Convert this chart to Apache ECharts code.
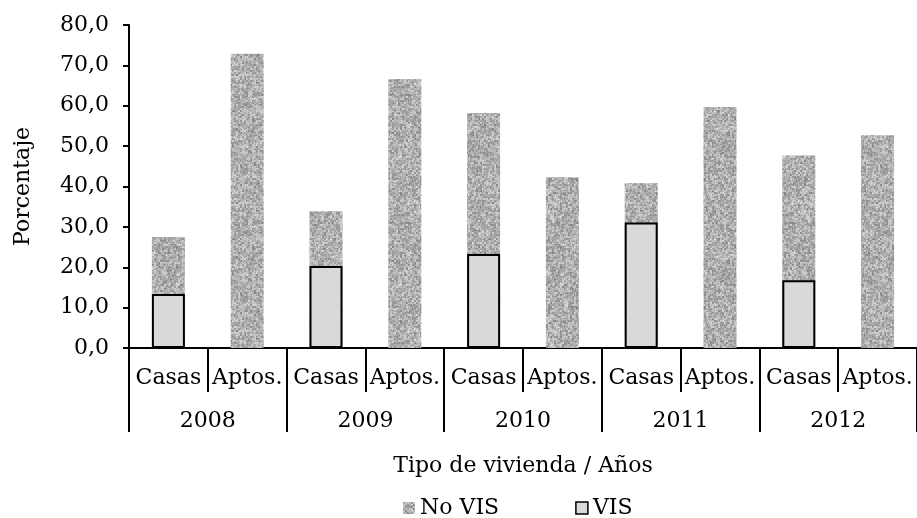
<!DOCTYPE html>
<html>
<head>
<meta charset="utf-8">
<script src="https://cdn.jsdelivr.net/npm/echarts@6/dist/echarts.min.js"></script>
<style>
  html, body { margin: 0; padding: 0; background: #fff; }
  #chart { width: 917px; height: 518px; }
</style>
</head>
<body>
<div id="chart"></div>
<script>
// data
const tipos = ['Casas', 'Aptos.', 'Casas', 'Aptos.', 'Casas', 'Aptos.', 'Casas', 'Aptos.', 'Casas', 'Aptos.']
const years = ['2008', '2009', '2010', '2011', '2012']
const noVis = [27.5, 72.9, 33.9, 66.6, 58.2, 42.3, 40.8, 59.7, 47.7, 52.7]
const vis = [13.4, null, 20.3, null, 23.3, null, 31.1, null, 16.8, null]

const font = 'DejaVu Serif'

// grainy grey texture for the No VIS bars (fixed integer hash, not random)
const hash = (x, y) => {
  let h = (Math.imul(x, 374761393) + Math.imul(y, 668265263)) | 0
  h = Math.imul(h ^ (h >>> 13), 1274126177)
  h = h ^ (h >>> 16)
  return (h >>> 0) / 4294967296
}
const makeGrain = () => {
  const size = 128
  const c = document.createElement('canvas')
  c.width = size
  c.height = size
  const ctx = c.getContext('2d')
  const img = ctx.createImageData(size, size)
  for (let y = 0; y < size; y++) {
    for (let x = 0; x < size; x++) {
      // coarse 2px grain mixed with a fine one
      const coarse = hash(Math.floor(x / 2) + 1000, Math.floor(y / 2) + 2000)
      const fine = hash(x + 5000, y + 7000)
      const v = coarse * 0.6 + fine * 0.4
      const g = Math.round(125 + v * 100)
      const i = (y * size + x) * 4
      img.data[i] = g
      img.data[i + 1] = g
      img.data[i + 2] = g
      img.data[i + 3] = 255
    }
  }
  ctx.putImageData(img, 0, 0)
  return c
}
const grain = {image: makeGrain(), repeat: 'repeat'}

const chart = echarts.init(document.getElementById('chart'))

const option = {
  animation: false,
  backgroundColor: '#fff',
  grid: {left: 129, right: 0, top: 25, bottom: 170, containLabel: false, outerBoundsMode: 'none'},
  legend: {
    left: 398,
    top: 492,
    itemWidth: 12,
    itemHeight: 12,
    itemGap: 76,
    textStyle: {fontFamily: font, fontSize: 22, color: '#000'},
    data: [
      {name: 'No VIS', icon: 'rect'},
      {name: 'VIS', icon: 'rect', itemStyle: {borderWidth: 1.5, borderColor: '#000'}}
    ]
  },
  xAxis: [
    {
      type: 'category',
      data: tipos,
      axisLine: {lineStyle: {color: '#000', width: 2}},
      axisTick: {show: true, length: 44, interval: 0, lineStyle: {color: '#000', width: 2}},
      axisLabel: {interval: 0, margin: 19, fontFamily: font, fontSize: 22, color: '#000'}
    },
    {
      type: 'category',
      data: years,
      position: 'bottom',
      name: 'Tipo de vivienda / Años',
      nameLocation: 'middle',
      nameGap: 107,
      nameTextStyle: {fontFamily: font, fontSize: 22, color: '#000'},
      axisLine: {show: false},
      axisTick: {show: true, length: 84, interval: 0, lineStyle: {color: '#000', width: 2}},
      axisLabel: {interval: 0, margin: 62, fontFamily: font, fontSize: 22, color: '#000'}
    }
  ],
  yAxis: {
    type: 'value',
    min: 0,
    max: 80,
    interval: 10,
    name: 'Porcentaje',
    nameLocation: 'middle',
    nameGap: 95,
    nameTextStyle: {fontFamily: font, fontSize: 22, color: '#000'},
    splitLine: {show: false},
    axisLine: {show: true, lineStyle: {color: '#000', width: 2}},
    axisTick: {show: true, length: 6, lineStyle: {color: '#000', width: 2}},
    axisLabel: {
      margin: 20,
      fontFamily: font,
      fontSize: 22,
      color: '#000',
      formatter: v => v.toFixed(1).replace('.', ',')
    }
  },
  series: [
    {
      name: 'No VIS',
      type: 'bar',
      xAxisIndex: 0,
      barWidth: 33,
      barGap: '-100%',
      itemStyle: {color: grain},
      data: noVis
    },
    {
      name: 'VIS',
      type: 'bar',
      xAxisIndex: 0,
      barWidth: 33,
      barGap: '-100%',
      itemStyle: {color: '#d9d9d9', borderColor: '#000', borderWidth: 2},
      data: vis
    }
  ]
}

chart.setOption(option)
</script>
</body>
</html>
